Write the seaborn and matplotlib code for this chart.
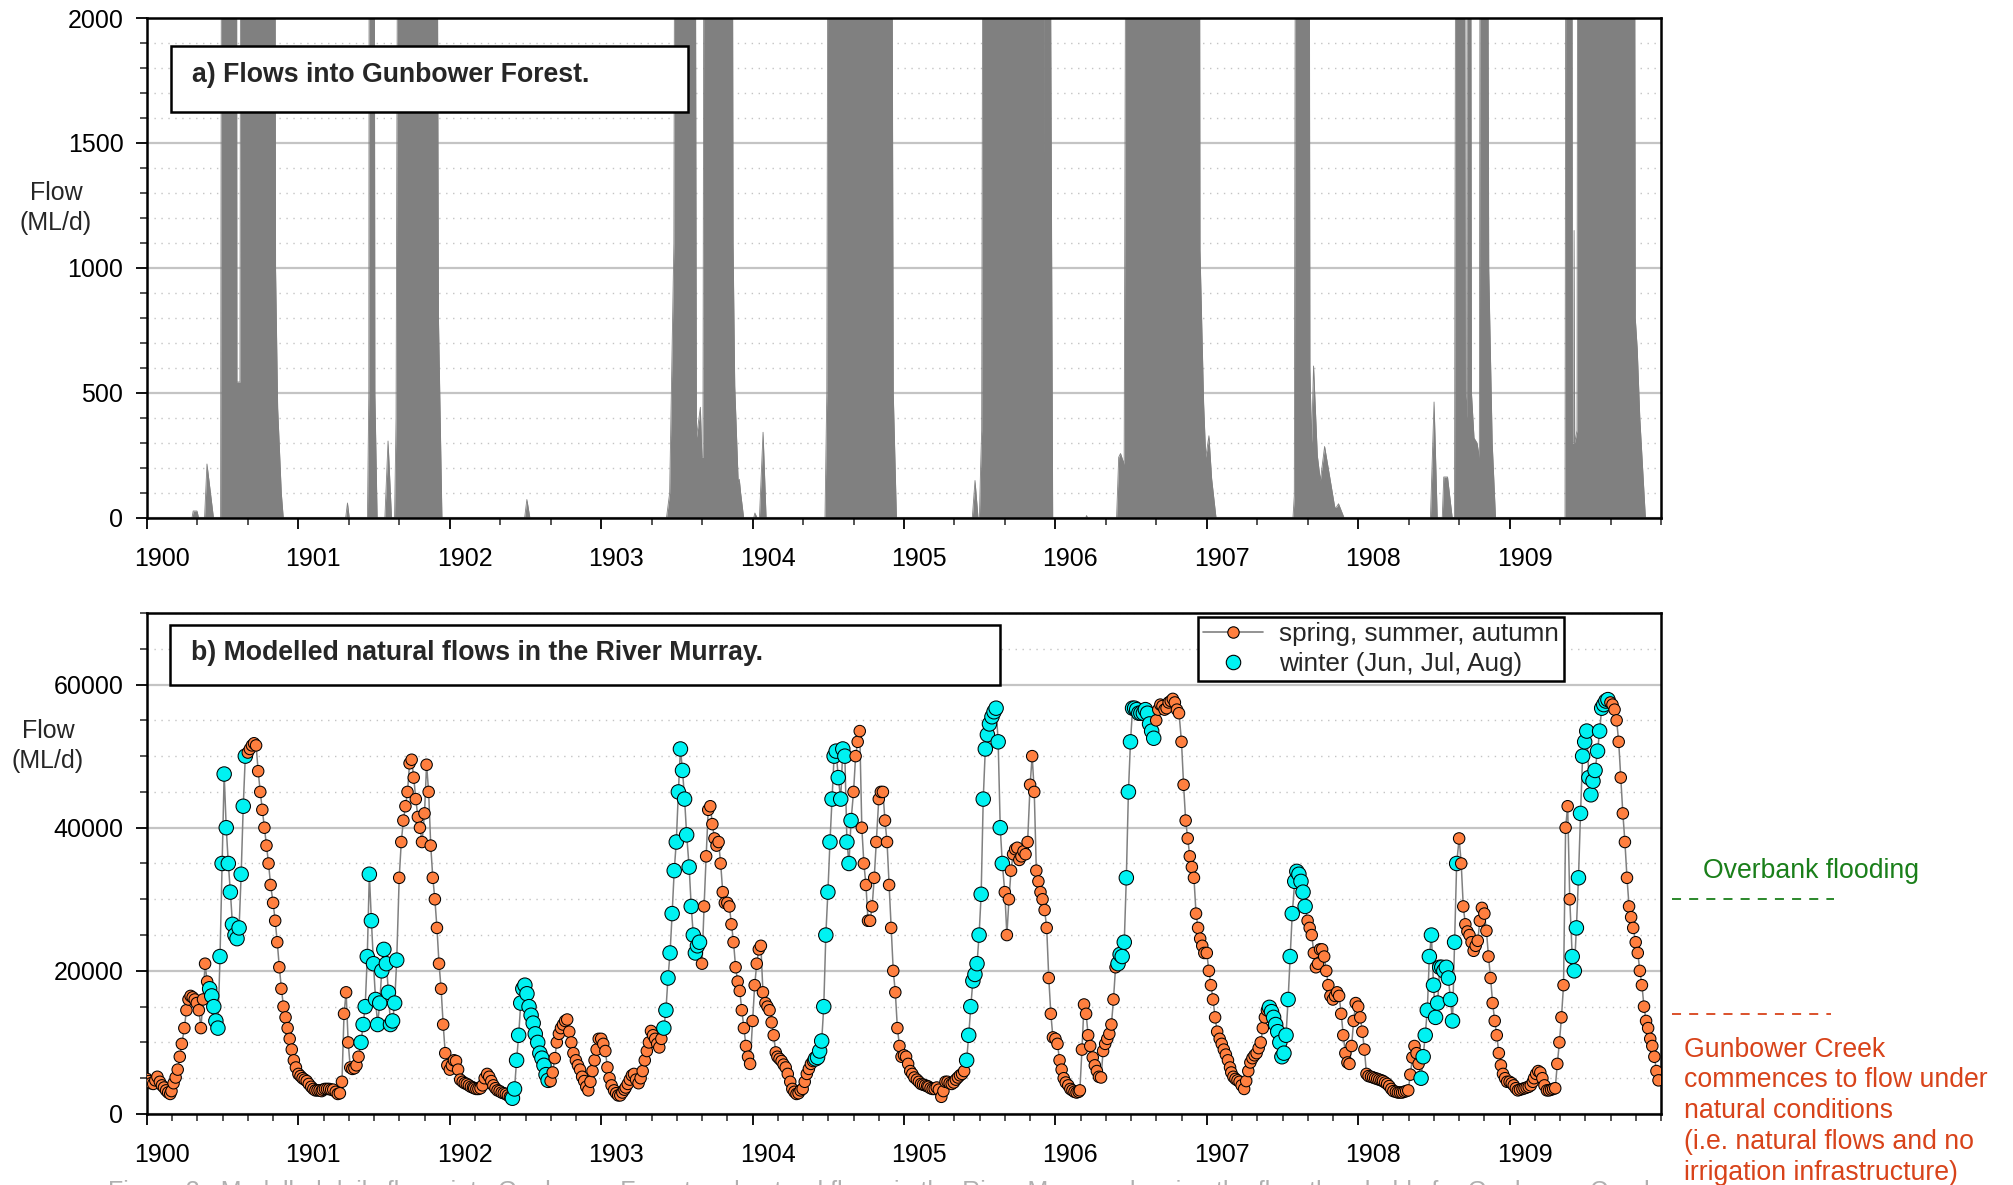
import numpy as np
import pandas as pd
import matplotlib
matplotlib.use("Agg")
import matplotlib.pyplot as plt
import matplotlib.transforms as mtransforms
from matplotlib.patches import Rectangle
from matplotlib.lines import Line2D
from matplotlib.ticker import MultipleLocator, FixedLocator
import seaborn as sns

# ---------------------------------------------------------------------------
# River Murray modelled natural flow (ML/d), sampled on days 1, 6, 11, 16,
# 21 and 26 of every month (one row of six values per month), one list a year
# ---------------------------------------------------------------------------
flow_1900 = [4900, 4600, 4300, 4200, 4700, 5200,
             4500, 4000, 3700, 3300, 3000, 2800,
             3200, 4300, 5100, 6200, 8000, 9800,
             12000, 14500, 16000, 16500, 16300, 16000,
             15500, 14500, 12000, 16000, 21000, 18500,
             17500, 16500, 15000, 13000, 12000, 22000,
             35000, 47500, 40000, 35000, 31000, 26500,
             25000, 24500, 26000, 33500, 43000, 50000,
             50500, 51000, 51500, 51800, 51500, 47900,
             45000, 42500, 40000, 37500, 35000, 32000,
             29500, 27000, 24000, 20500, 17500, 15000,
             13500, 12000, 10500, 9000, 7500, 6500]
flow_1901 = [5600, 5300, 5000, 4800, 4600, 4200,
             3800, 3500, 3300, 3300, 3300, 3200,
             3400, 3500, 3500, 3500, 3400, 3400,
             3100, 2800, 2900, 4500, 14000, 17000,
             10000, 6500, 6300, 6400, 6800, 8000,
             10000, 12500, 15000, 22000, 33500, 27000,
             21000, 16000, 12500, 15500, 20000, 23000,
             21000, 17000, 12500, 13000, 15500, 21500,
             33000, 38000, 41000, 43000, 45000, 49000,
             49500, 47000, 44000, 41500, 40000, 38000,
             42000, 48800, 45000, 37500, 33000, 30000,
             26000, 21000, 17500, 12500, 8500, 6800]
flow_1902 = [6200, 6800, 7500, 7400, 6200, 4800,
             4500, 4300, 4200, 4000, 3800, 3700,
             3600, 3500, 3500, 3600, 4000, 5000,
             5600, 5200, 4600, 4000, 3600, 3300,
             3200, 3000, 2900, 2800, 2600, 2400,
             2200, 3500, 7500, 11000, 15500, 17500,
             18000, 16800, 15000, 13800, 12700, 11200,
             10000, 8500, 7800, 6800, 5500, 4700,
             4600, 5800, 7800, 10000, 11200, 12000,
             12500, 13000, 13200, 11500, 10000, 8500,
             7500, 6800, 6200, 5200, 4600, 3800,
             3300, 4500, 6000, 7500, 9000, 10500]
flow_1903 = [10500, 9800, 8800, 6500, 5000, 4000,
             3300, 2900, 2600, 2600, 3000, 3400,
             3700, 4200, 4800, 5400, 5600, 4800,
             4300, 5000, 6000, 7500, 8800, 10000,
             11600, 11000, 10500, 9800, 9300, 10500,
             12000, 14500, 19000, 22500, 28000, 34000,
             38000, 45000, 51000, 48000, 44000, 39000,
             34500, 29000, 25000, 22500, 23500, 24000,
             21000, 29000, 36000, 42500, 43000, 40500,
             38500, 37500, 38000, 35000, 31000, 29500,
             29500, 29000, 26500, 24000, 20500, 18500,
             17200, 14500, 12000, 9500, 8000, 7000]
flow_1904 = [13000, 18000, 21000, 23000, 23500, 17000,
             15500, 15000, 14500, 12800, 11000, 8600,
             8000, 7700, 7400, 6900, 6500, 5600,
             4500, 3500, 3100, 2800, 2900, 3300,
             3500, 4500, 5600, 6300, 7000, 7400,
             7700, 7900, 8800, 10200, 15000, 25000,
             31000, 38000, 44000, 50000, 50700, 47000,
             44000, 51000, 50000, 38000, 35000, 41000,
             45000, 50000, 52000, 53500, 40000, 35000,
             32000, 27000, 27000, 29000, 33000, 38000,
             44000, 45000, 45000, 41000, 38000, 32000,
             26000, 20000, 17000, 12000, 9500, 8000]
flow_1905 = [8200, 8000, 7000, 6000, 5600, 5100,
             4800, 4500, 4200, 4100, 4000, 3900,
             3800, 3600, 3500, 3500, 3700, 3400,
             2400, 3200, 4500, 4500, 4300, 4200,
             4400, 4800, 5100, 5400, 5600, 6000,
             7500, 11000, 15000, 18600, 19500, 21000,
             25000, 30700, 44000, 51000, 53000, 54500,
             55500, 56200, 56700, 52000, 40000, 35000,
             31000, 25000, 30000, 34000, 36300, 37000,
             37200, 35500, 36000, 36700, 36300, 38000,
             46000, 50000, 45000, 34000, 32500, 31000,
             30000, 28500, 26000, 19000, 14000, 10700]
flow_1906 = [10500, 9800, 7500, 6200, 5000, 4400,
             4000, 3500, 3300, 3100, 3000, 3100,
             3300, 9000, 15300, 14000, 11000, 9500,
             7900, 6800, 6000, 5200, 5100, 8800,
             9800, 10500, 11200, 12500, 16000, 20500,
             21000, 22300, 22000, 24000, 33000, 45000,
             52000, 56700, 56700, 56500, 56000, 56000,
             56000, 56500, 56000, 54500, 53500, 52500,
             55000, 56500, 57200, 57000, 56500, 56700,
             57500, 57700, 58000, 57500, 56500, 56000,
             52000, 46000, 41000, 38500, 36000, 34500,
             33000, 28000, 26000, 24500, 23500, 22500]
flow_1907 = [22500, 20000, 18000, 16000, 13500, 11500,
             10500, 9800, 9000, 8300, 7500, 6500,
             5800, 5200, 4900, 4700, 4500, 4000,
             3500, 4600, 6000, 7200, 7800, 8200,
             8500, 9200, 10000, 12000, 13500, 14500,
             14900, 14300, 13500, 12500, 11500, 10000,
             8000, 8500, 11000, 16000, 22000, 28000,
             32500, 33900, 33500, 32500, 31000, 29000,
             27000, 26000, 25000, 22500, 20500, 21000,
             23000, 23000, 22000, 20000, 18000, 16500,
             16000, 16500, 17000, 16500, 14000, 11000,
             8500, 7200, 7000, 9500, 13000, 15500]
flow_1908 = [15000, 13500, 11500, 9000, 5600, 5300,
             5200, 5100, 5000, 4900, 4800, 4700,
             4600, 4400, 4200, 3900, 3500, 3200,
             3100, 3000, 3000, 3000, 3100, 3200,
             3300, 5500, 7900, 9500, 8500, 7000,
             5000, 8000, 11000, 14500, 22000, 25000,
             18000, 13500, 15500, 20500, 20500, 20000,
             20500, 19000, 16000, 13000, 24000, 35000,
             38500, 35000, 29000, 26500, 25500, 25000,
             24000, 22800, 23500, 24200, 27000, 28800,
             28000, 25600, 22000, 19000, 15500, 13000,
             11000, 8500, 6800, 5600, 5000, 4500]
flow_1909 = [4500, 4300, 4000, 3600, 3300, 3400,
             3500, 3600, 3700, 3800, 4000, 4500,
             5000, 5600, 6000, 5800, 5000, 4000,
             3300, 3300, 3400, 3500, 3600, 7000,
             10000, 13500, 18000, 40000, 43000, 30000,
             22000, 20000, 26000, 33000, 42000, 50000,
             52000, 53500, 47000, 44600, 46500, 48000,
             50700, 53500, 56700, 57200, 57700, 57900,
             57500, 57200, 56500, 55000, 52000, 47000,
             42000, 38000, 33000, 29000, 27500, 26000,
             24000, 22500, 20000, 18000, 15000, 13000,
             12000, 10500, 9500, 8000, 6000, 4700]

years = list(range(1900, 1910))
sample_days = [1, 6, 11, 16, 21, 26]
winter_months = [6, 7, 8]

# ---------------------------------------------------------------------------
# Flows into Gunbower Forest (ML/d): breakpoints of the hydrograph, time in
# decimal years (values above 2000 run off the top of the panel)
# ---------------------------------------------------------------------------
forest_t = [
    1900.000, 1900.297, 1900.305, 1900.330, 1900.341,
    1900.380, 1900.396, 1900.439,
    1900.486, 1900.495, 1900.590, 1900.594, 1900.614, 1900.621, 1900.842,
    1900.849, 1900.863, 1900.887, 1900.900,
    1901.312, 1901.324, 1901.336,
    1901.456, 1901.465, 1901.469, 1901.499, 1901.505, 1901.520,
    1901.571, 1901.592, 1901.615,
    1901.635, 1901.645, 1901.662, 1901.910, 1901.925, 1901.948,
    1902.494, 1902.509, 1902.529,
    1903.431, 1903.452, 1903.480, 1903.490, 1903.617, 1903.629, 1903.655,
    1903.665, 1903.672, 1903.682, 1903.809, 1903.812, 1903.818, 1903.862,
    1903.871, 1903.882, 1903.905, 1903.912, 1903.921, 1903.941,
    1904.007, 1904.015, 1904.030, 1904.045, 1904.069, 1904.089,
    1904.478, 1904.490, 1904.502, 1904.761, 1904.762, 1904.763, 1904.914,
    1904.929, 1904.950,
    1905.451, 1905.469, 1905.489, 1905.498, 1905.505, 1905.513, 1905.525,
    1905.680, 1905.681, 1905.682, 1905.922, 1905.923, 1905.924, 1905.956,
    1905.982,
    1906.200, 1906.206, 1906.212,
    1906.404, 1906.418, 1906.430, 1906.454, 1906.471, 1906.949, 1906.955,
    1906.979, 1906.993, 1907.014, 1907.032, 1907.061,
    1907.569, 1907.578, 1907.589, 1907.674, 1907.681, 1907.692, 1907.705,
    1907.730, 1907.750, 1907.778, 1907.810, 1907.845, 1907.856, 1907.870,
    1907.907,
    1908.477, 1908.501, 1908.522,
    1908.555, 1908.565, 1908.590, 1908.621,
    1908.636, 1908.648, 1908.700, 1908.708, 1908.716, 1908.722, 1908.740,
    1908.748, 1908.765, 1908.785, 1908.800, 1908.808, 1908.850, 1908.862,
    1908.885, 1908.907,
    1909.366, 1909.374, 1909.410, 1909.415, 1909.423, 1909.426, 1909.430,
    1909.445, 1909.452, 1909.822, 1909.830, 1909.843, 1909.860, 1909.897,
    1910.000]
forest_q = [
    0, 0, 28, 28, 0,
    0, 216, 0,
    0, 4000, 4000, 544, 544, 4000, 4000,
    1000, 440, 100, 0,
    0, 60, 0,
    0, 500, 4000, 4000, 500, 0,
    0, 308, 0,
    0, 400, 4000, 4000, 800, 0,
    0, 74, 0,
    0, 100, 1100, 4000, 4000, 321, 443,
    243, 243, 4000, 4000, 1630, 4000, 4000,
    1100, 528, 140, 155, 100, 0,
    0, 20, 0, 0, 343, 0,
    0, 500, 4000, 4000, 1714, 4000, 4000,
    500, 0,
    0, 150, 0, 0, 180, 350, 4000,
    4000, 672, 4000, 4000, 1329, 4000, 4000,
    0,
    0, 10, 0,
    0, 243, 258, 215, 4000, 4000, 1072,
    458, 243, 329, 157, 0,
    0, 90, 4000, 4000, 600, 300, 608,
    250, 150, 286, 171, 43, 43, 57,
    0,
    0, 464, 0,
    0, 164, 164, 0,
    0, 4000, 4000, 500, 400, 4000, 4000,
    500, 320, 300, 240, 4000, 4000, 1000,
    300, 0,
    0, 4000, 4000, 300, 300, 1150, 300,
    350, 4000, 4000, 800, 676, 400, 0,
    0]

overbank_threshold = 30000
creek_threshold = 14000

year_ticks = list(range(1900, 1910))
year_labels = [str(y) for y in year_ticks]

legend_labels = ["spring, summer, autumn", "winter (Jun, Jul, Aug)"]

ORANGE = "#FF7F3F"
CYAN = "#00F2F2"
AREA_GREY = "#808080"
GREEN = "#1A7F1A"
RED = "#D8431A"

# ---------------------------------------------------------------------------
# Assemble the river series
# ---------------------------------------------------------------------------
yearly_flows = [flow_1900, flow_1901, flow_1902, flow_1903, flow_1904,
                flow_1905, flow_1906, flow_1907, flow_1908, flow_1909]
rows = []
for yr, vals in zip(years, yearly_flows):
    stamps = [pd.Timestamp(yr, m, d) for m in range(1, 13) for d in sample_days]
    ndays = 366 if pd.Timestamp(yr, 1, 1).is_leap_year else 365
    for ts, v in zip(stamps, vals):
        rows.append({
            "t": yr + (ts.dayofyear - 1) / ndays,
            "flow": v,
            "season": "winter" if ts.month in winter_months else "other",
        })
river = pd.DataFrame(rows)
forest = pd.DataFrame({"t": forest_t, "q": forest_q})

# ---------------------------------------------------------------------------
# Figure
# ---------------------------------------------------------------------------
sns.set_theme(style="ticks")
plt.rcParams["font.family"] = ["Liberation Sans", "DejaVu Sans"]
plt.rcParams["axes.linewidth"] = 1.8

fig = plt.figure(figsize=(20.13, 11.85), dpi=100)
ax1 = fig.add_axes([0.07303, 0.56287, 0.75211, 0.42194])
ax2 = fig.add_axes([0.07303, 0.05992, 0.75211, 0.42278])

label_shift = mtransforms.ScaledTranslation(0.15, 0, fig.dpi_scale_trans)


def style_axis(ax, ymax, ymajor, yminor, xminor):
    ax.set_xlim(1900, 1910)
    ax.set_ylim(0, ymax)
    ax.xaxis.set_major_locator(FixedLocator(year_ticks))
    ax.set_xticks(year_ticks)
    ax.set_xticklabels(year_labels)
    ax.xaxis.set_minor_locator(MultipleLocator(xminor))
    ax.yaxis.set_major_locator(MultipleLocator(ymajor))
    ax.yaxis.set_minor_locator(MultipleLocator(yminor))
    ax.tick_params(which="major", direction="out", length=8, width=1.3,
                   labelsize=18, colors="black", bottom=True, left=True,
                   top=False, right=False)
    ax.tick_params(which="minor", direction="out", length=5, width=1.1,
                   bottom=True, left=True, top=False, right=False)
    ax.tick_params(axis="x", pad=13)
    ax.tick_params(axis="y", pad=9)
    for lab in ax.get_xticklabels():
        lab.set_transform(lab.get_transform() + label_shift)
    ax.yaxis.grid(True, which="major", color="#c4c4c4", lw=1.6, ls="-")
    ax.yaxis.grid(True, which="minor", color="#c4c4c4", lw=1.0, ls=(0, (1, 4)))
    ax.xaxis.grid(False)
    ax.set_axisbelow(True)
    for sp in ax.spines.values():
        sp.set_visible(True)
        sp.set_color("black")
        sp.set_linewidth(1.8)
    ax.set_xlabel("")
    ax.set_ylabel("")


# --- panel a: flows into the forest ---------------------------------------
ax1.fill_between(forest["t"], forest["q"], 0, color=AREA_GREY, lw=0, zorder=2)
sns.lineplot(data=forest, x="t", y="q", ax=ax1, color=AREA_GREY, lw=0.6,
             sort=False, estimator=None, zorder=2)
style_axis(ax1, 2000, 500, 100, 1 / 3)

ax1.add_patch(Rectangle((0.0159, 0.812), 0.3411, 0.132, transform=ax1.transAxes,
                        facecolor="white", edgecolor="black", lw=1.8, zorder=5))
ax1.text(0.0297, 0.886, "a) Flows into Gunbower Forest.", transform=ax1.transAxes,
         fontsize=19.2, fontweight="bold", ha="left", va="center", zorder=6)

# --- panel b: river flows ---------------------------------------------------
sns.lineplot(data=river, x="t", y="flow", ax=ax2, color="#808080", lw=1.1,
             sort=False, estimator=None, zorder=2)
sns.scatterplot(data=river, x="t", y="flow", hue="season", size="season",
                palette={"other": ORANGE, "winter": CYAN},
                sizes={"other": 68, "winter": 108},
                edgecolor="black", linewidth=0.75, ax=ax2, legend=False,
                zorder=3)
style_axis(ax2, 70000, 20000, 5000, 1 / 6)

ax2.add_patch(Rectangle((0.0152, 0.856), 0.5482, 0.120, transform=ax2.transAxes,
                        facecolor="white", edgecolor="black", lw=1.8, zorder=5))
ax2.text(0.029, 0.920, "b) Modelled natural flows in the River Murray.",
         transform=ax2.transAxes, fontsize=19.2, fontweight="bold",
         ha="left", va="center", zorder=6)

h_other = Line2D([], [], color="#808080", lw=1.2, marker="o", markersize=8.2,
                 markerfacecolor=ORANGE, markeredgecolor="black",
                 markeredgewidth=0.8)
h_winter = Line2D([], [], ls="none", marker="o", markersize=10.4,
                  markerfacecolor=CYAN, markeredgecolor="black",
                  markeredgewidth=0.8)
leg = ax2.legend([h_other, h_winter], legend_labels, loc="upper right",
                 bbox_to_anchor=(0.936, 0.992), frameon=True, fancybox=False,
                 framealpha=1, edgecolor="black", fontsize=18.8, borderpad=0.2,
                 handlelength=2.3, handletextpad=0.6, labelspacing=0.22,
                 borderaxespad=0)
leg.get_frame().set_linewidth(1.8)
leg.set_zorder(7)

# thresholds drawn beside panel b
blend = mtransforms.blended_transform_factory(ax2.transAxes, ax2.transData)
ax2.plot([1.007, 1.114], [overbank_threshold, overbank_threshold],
         transform=blend, color=GREEN, lw=1.3, dashes=[5, 4.5], clip_on=False)
ax2.plot([1.007, 1.112], [creek_threshold, creek_threshold],
         transform=blend, color=RED, lw=1.3, dashes=[5, 4.5], clip_on=False)
ax2.text(1.0277, 33950, "Overbank flooding", transform=blend, color=GREEN,
         fontsize=19.2, ha="left", va="center", clip_on=False)
ax2.text(1.0152, 10800,
         "Gunbower Creek\ncommences to flow under\nnatural conditions\n"
         "(i.e. natural flows and no\nirrigation infrastructure)",
         transform=blend, color=RED, fontsize=19.2, ha="left", va="top",
         linespacing=1.24, clip_on=False)

# axis titles
fig.text(56 / 2013, 1 - 208 / 1185, "Flow\n(ML/d)", ha="center", va="center",
         fontsize=18, linespacing=1.3)
fig.text(48 / 2013, 1 - 746 / 1185, "Flow\n(ML/d)", ha="center", va="center",
         fontsize=18, linespacing=1.3)

# caption line running off the bottom edge
fig.text(108 / 2013, 1 - 1180 / 1185,
         "Figure 3   Modelled daily flows into Gunbower Forest and natural flows in the River Murray, showing the flow thresholds for Gunbower Creek",
         ha="left", va="top", fontsize=18, color="#b0b0b0")

fig.savefig("out.png", dpi=100)
